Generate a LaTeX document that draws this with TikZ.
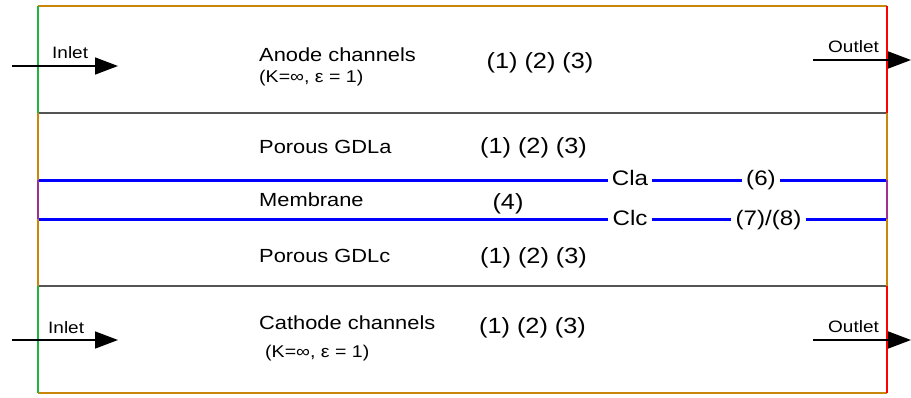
\documentclass[tikz,border=0pt]{standalone}
\usepackage{fontspec}
\setmainfont{Liberation Sans}[FakeStretch=1.15]
\usetikzlibrary{arrows.meta}
\definecolor{bord}{HTML}{C8860A}
\definecolor{inl}{HTML}{1DB53A}
\definecolor{outl}{HTML}{FF0000}
\definecolor{memc}{HTML}{A0308F}
\definecolor{sep}{HTML}{555555}
\begin{document}
\begin{tikzpicture}[x=1pt,y=-1pt,
  lbl/.style={anchor=base west, inner sep=0pt, font=\fontsize{19}{19}\selectfont},
  sub/.style={anchor=base west, inner sep=0pt, font=\fontsize{17}{17}\selectfont},
  num/.style={anchor=base, inner sep=0pt, font=\fontsize{22}{22}\selectfont},
  io/.style={anchor=base west, inner sep=0pt, font=\fontsize{16.5}{16.5}\selectfont},
  cl/.style={anchor=base, inner xsep=4pt, inner ysep=0pt, font=\fontsize{21}{21}\selectfont},
  flow/.style={line width=1.5pt, -{Triangle[length=23pt,width=17pt]}},
  memb/.style={blue, line width=3pt},
  edge/.style={line width=2.6pt},
  sepl/.style={sep, line width=2pt}]
\useasboundingbox (0,0) rectangle (911,397);
% frame coordinates
\coordinate (TL) at (38,6);   \coordinate (TR) at (887,6);
\coordinate (AL) at (38,113); \coordinate (AR) at (887,113);
\coordinate (MtL) at (38,180); \coordinate (MtR) at (887,180);
\coordinate (MbL) at (38,219); \coordinate (MbR) at (887,219);
\coordinate (CL) at (38,286); \coordinate (CR) at (887,286);
\coordinate (BL) at (38,393); \coordinate (BR) at (887,393);
% separators
\draw[sepl] (AL) -- (AR);
\draw[sepl] (CL) -- (CR);
% membrane lines with labels
\node[cl] (cla) at (630,185) {Cla};
\node[cl] (six) at (761,185) {(6)};
\node[cl] (clc) at (630,225) {Clc};
\node[cl] (seven) at (768.5,225) {(7)/(8)};
\draw[memb] (MtL) -- (cla.west |- MtL);
\draw[memb] (cla.east |- MtL) -- (six.west |- MtL);
\draw[memb] (six.east |- MtL) -- (MtR);
\draw[memb] (MbL) -- (clc.west |- MbL);
\draw[memb] (clc.east |- MbL) -- (seven.west |- MbL);
\draw[memb] (seven.east |- MbL) -- (MbR);
% outer frame
\draw[edge, bord] (TL) -- (TR);
\draw[edge, bord] (BL) -- (BR);
\draw[edge, inl] (TL) -- (AL);
\draw[edge, bord] (AL) -- (MtL);
\draw[edge, memc] (MtL) -- (MbL);
\draw[edge, bord] (MbL) -- (CL);
\draw[edge, inl] (CL) -- (BL);
\draw[edge, outl] (TR) -- (AR);
\draw[edge, bord] (AR) -- (MtR);
\draw[edge, memc] (MtR) -- (MbR);
\draw[edge, bord] (MbR) -- (CR);
\draw[edge, outl] (CR) -- (BR);
% flows
\coordinate (ain1) at (12,66);  \coordinate (ain2) at (118,66);
\coordinate (aout1) at (813,60); \coordinate (aout2) at (911,60);
\coordinate (cin1) at (12,340); \coordinate (cin2) at (118,340);
\coordinate (cout1) at (813,340); \coordinate (cout2) at (911,340);
\draw[flow] (ain1) -- (ain2);
\draw[flow] (aout1) -- (aout2);
\draw[flow] (cin1) -- (cin2);
\draw[flow] (cout1) -- (cout2);
\node[io] (ainl) at (52,58) {Inlet};
\node[io] (aoutl) at (828,52) {Outlet};
\node[io] (cinl) at (48,333) {Inlet};
\node[io] (coutl) at (828,332) {Outlet};
% region labels
\node[lbl] (anode) at (259,61) {Anode channels};
\node[sub] (anodek) at (259,82) {(K=∞, ε = 1)};
\node[num] (anoden) at (540,68) {(1) (2) (3)};
\node[lbl] (gdla) at (259,153) {Porous GDLa};
\node[num] (gdlan) at (533.5,153) {(1) (2) (3)};
\node[lbl] (mem) at (259,206) {Membrane};
\node[num] (memn) at (508,209) {(4)};
\node[lbl] (gdlc) at (259,262) {Porous GDLc};
\node[num] (gdlcn) at (533.5,263) {(1) (2) (3)};
\node[lbl] (cath) at (259,329) {Cathode channels};
\node[sub] (cathk) at (265,357) {(K=∞, ε = 1)};
\node[num] (cathn) at (532.5,333) {(1) (2) (3)};
\end{tikzpicture}
\end{document}
